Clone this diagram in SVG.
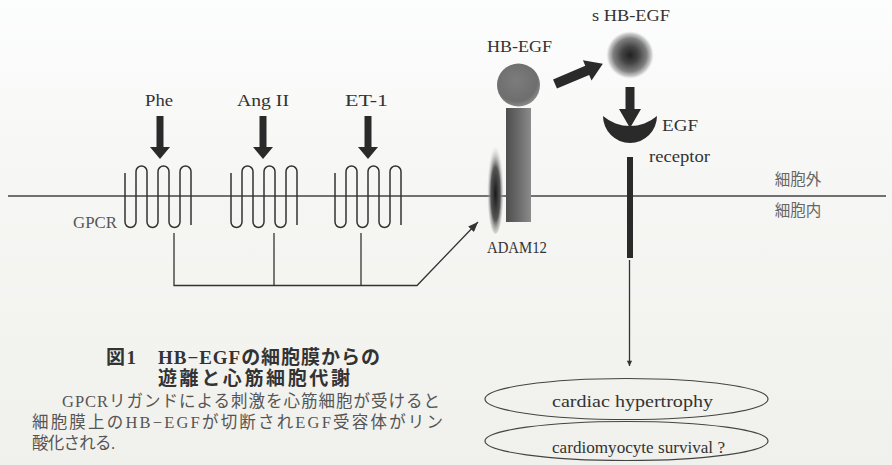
<svg xmlns="http://www.w3.org/2000/svg" width="892" height="465" viewBox="0 0 892 465">
  <defs>
    <linearGradient id="bg" x1="0" y1="0" x2="0" y2="1">
      <stop offset="0" stop-color="#fcfdfd"/>
      <stop offset="0.4" stop-color="#f6f6f4"/>
      <stop offset="1" stop-color="#f0f0ec"/>
    </linearGradient>
    <radialGradient id="hbBall" cx="0.45" cy="0.4" r="0.6">
      <stop offset="0" stop-color="#7c7c7c"/>
      <stop offset="0.8" stop-color="#6e6e6e"/>
      <stop offset="1" stop-color="#8a8a8a"/>
    </radialGradient>
    <linearGradient id="hbStem" x1="0" y1="0" x2="1" y2="0">
      <stop offset="0" stop-color="#4e4e4e"/>
      <stop offset="0.5" stop-color="#6a6a6a"/>
      <stop offset="1" stop-color="#8c8c8c"/>
    </linearGradient>
    <radialGradient id="sBall" cx="0.5" cy="0.5" r="0.5">
      <stop offset="0" stop-color="#222"/>
      <stop offset="0.35" stop-color="#444"/>
      <stop offset="0.7" stop-color="#808080"/>
      <stop offset="0.88" stop-color="#b0b0b0" stop-opacity="0.7"/>
      <stop offset="1" stop-color="#d8d8d8" stop-opacity="0"/>
    </radialGradient>
    <radialGradient id="adam" cx="0.5" cy="0.58" r="0.5">
      <stop offset="0" stop-color="#1a1a1a"/>
      <stop offset="0.55" stop-color="#555"/>
      <stop offset="1" stop-color="#cfcfcf" stop-opacity="0"/>
    </radialGradient>
    <!-- seven-pass transmembrane receptor, drawn from its left edge -->
    <path id="gpcr" d="M0,173 L0,222 A5.5,5.5 0 0 0 11,222 L11,171.5 A5.5,5.5 0 0 1 22,171.5 L22,222 A5.5,5.5 0 0 0 33,222 L33,171.5 A5.5,5.5 0 0 1 44,171.5 L44,222 A5.5,5.5 0 0 0 55,222 L55,171.5 A5.5,5.5 0 0 1 66,171.5 L66,225"/>
    <!-- thick ligand arrow pointing down, origin at top centre -->
    <polygon id="ligArrow" points="-3.5,0 3.5,0 3.5,31 10,31 0,43 -10,31 -3.5,31"/>
    <marker id="tip" viewBox="0 0 10 8" refX="10" refY="4" markerWidth="10" markerHeight="8" markerUnits="userSpaceOnUse" orient="auto">
      <path d="M0,0 L10,4 L0,8 Z" fill="#333"/>
    </marker>
    <marker id="tipDown" viewBox="0 0 8 12" refX="8" refY="4" markerWidth="12" markerHeight="8" markerUnits="userSpaceOnUse" orient="auto">
      <path d="M0,0 L8,4 L0,8 Z" fill="#333"/>
    </marker>
  </defs>
  <style>
    .lbl { font-family: "Liberation Serif", "Noto Sans CJK JP", serif; font-size: 16.5px; fill: #333; }
    .grey { fill: #555; }
    .jp { font-family: "Noto Sans CJK JP", sans-serif; font-size: 15.5px; fill: #666; }
    .cap { font-family: "Liberation Serif", "Noto Sans CJK JP", serif; font-size: 19px; font-weight: bold; fill: #333; }
    .body { font-family: "Liberation Serif", "Noto Sans CJK JP", serif; font-size: 16.5px; fill: #555; }
    .mem { fill: none; stroke: #333; stroke-width: 1.5; }
    .wire { fill: none; stroke: #333; stroke-width: 1.3; }
    .solid { fill: #2a2a2a; }
    .oval { fill: none; stroke: #444; stroke-width: 1.2; }
  </style>

  <rect width="892" height="465" fill="url(#bg)"/>

  <!-- plasma membrane -->
  <g id="membrane">
    <line x1="8" y1="196" x2="886" y2="196" stroke="#444" stroke-width="1.5"/>
    <text class="jp" x="798" y="185" text-anchor="middle">細胞外</text>
    <text class="jp" x="798" y="216" text-anchor="middle">細胞内</text>
  </g>

  <!-- receptors and their ligands -->
  <g id="gpcr-phe">
    <text class="lbl" x="145" y="106" textLength="28" lengthAdjust="spacingAndGlyphs">Phe</text>
    <use href="#ligArrow" x="160" y="116" class="solid"/>
    <use href="#gpcr" x="125" class="mem"/>
    <text class="lbl grey" x="73" y="228" style="font-size:17px" textLength="44" lengthAdjust="spacingAndGlyphs">GPCR</text>
  </g>
  <g id="gpcr-ang">
    <text class="lbl" x="237" y="106" textLength="52" lengthAdjust="spacingAndGlyphs">Ang II</text>
    <use href="#ligArrow" x="263" y="116" class="solid"/>
    <use href="#gpcr" x="231" class="mem"/>
  </g>
  <g id="gpcr-et1">
    <text class="lbl" x="345" y="106" textLength="43" lengthAdjust="spacingAndGlyphs">ET-1</text>
    <use href="#ligArrow" x="368" y="116" class="solid"/>
    <use href="#gpcr" x="335" class="mem"/>
  </g>

  <!-- membrane-bound HB-EGF -->
  <g id="hb-egf">
    <text class="lbl" x="487" y="52" textLength="65" lengthAdjust="spacingAndGlyphs">HB-EGF</text>
    <circle cx="518.5" cy="85" r="21.5" fill="url(#hbBall)"/>
    <rect x="506" y="108" width="25" height="114" fill="url(#hbStem)"/>
  </g>

  <!-- sheddase -->
  <g id="adam12">
    <ellipse cx="495.5" cy="186" rx="8.5" ry="48" fill="url(#adam)"/>
    <text class="lbl" x="487" y="253" style="font-size:16px" textLength="60" lengthAdjust="spacingAndGlyphs">ADAM12</text>
  </g>

  <!-- soluble HB-EGF -->
  <g id="s-hb-egf">
    <text class="lbl" x="592" y="21" textLength="78" lengthAdjust="spacingAndGlyphs">s HB-EGF</text>
    <circle cx="630" cy="55" r="24" fill="url(#sBall)"/>
  </g>

  <!-- EGF receptor -->
  <g id="egf-receptor">
    <path class="solid" d="M603,116 A27,27 0 0 0 657,116 A41.5,41.5 0 0 1 603,116 Z"/>
    <rect x="627" y="157" width="6" height="101" class="solid"/>
    <text class="lbl" x="662" y="131" textLength="36" lengthAdjust="spacingAndGlyphs">EGF</text>
    <text class="lbl" x="649" y="162" textLength="61" lengthAdjust="spacingAndGlyphs">receptor</text>
  </g>

  <!-- outcomes -->
  <g id="hypertrophy">
    <ellipse class="oval" cx="626.5" cy="399" rx="141.5" ry="20.5"/>
    <text class="lbl" x="552" y="407" textLength="161" lengthAdjust="spacingAndGlyphs">cardiac hypertrophy</text>
  </g>
  <g id="survival">
    <ellipse class="oval" cx="626.5" cy="441" rx="141.5" ry="19.5"/>
    <text class="lbl" x="552" y="453" style="font-size:17px" textLength="173" lengthAdjust="spacingAndGlyphs">cardiomyocyte survival ?</text>
  </g>

  <!-- connectors -->
  <g id="connectors">
    <polyline class="wire" points="174,233 174,285.5 417,285.5 478,222" marker-end="url(#tip)"/>
    <line class="wire" x1="274" y1="233" x2="274" y2="285.5"/>
    <line class="wire" x1="361" y1="233" x2="361" y2="285.5"/>
    <polygon class="solid" transform="translate(555,84) rotate(-23)" points="0,-5 35,-5 35,-11 52,0 35,11 35,5 0,5"/>
    <polygon class="solid" points="625.5,87 634.5,87 634.5,109 641,109 630,128 619,109 625.5,109"/>
    <line class="wire" x1="629.5" y1="260" x2="629.5" y2="366" marker-end="url(#tipDown)"/>
  </g>

  <!-- figure caption -->
  <g id="caption">
    <text class="cap" x="106" y="364" textLength="30" lengthAdjust="spacing">図1</text>
    <text class="cap" x="158" y="364" textLength="222">HB−EGFの細胞膜からの</text>
    <text class="cap" x="158" y="385" textLength="192">遊離と心筋細胞代謝</text>
    <text class="body" x="62" y="407" textLength="378">GPCRリガンドによる刺激を心筋細胞が受けると</text>
    <text class="body" x="32" y="428" textLength="411">細胞膜上のHB−EGFが切断されEGF受容体がリン</text>
    <text class="body" x="32" y="449" textLength="83">酸化される.</text>
  </g>
</svg>
